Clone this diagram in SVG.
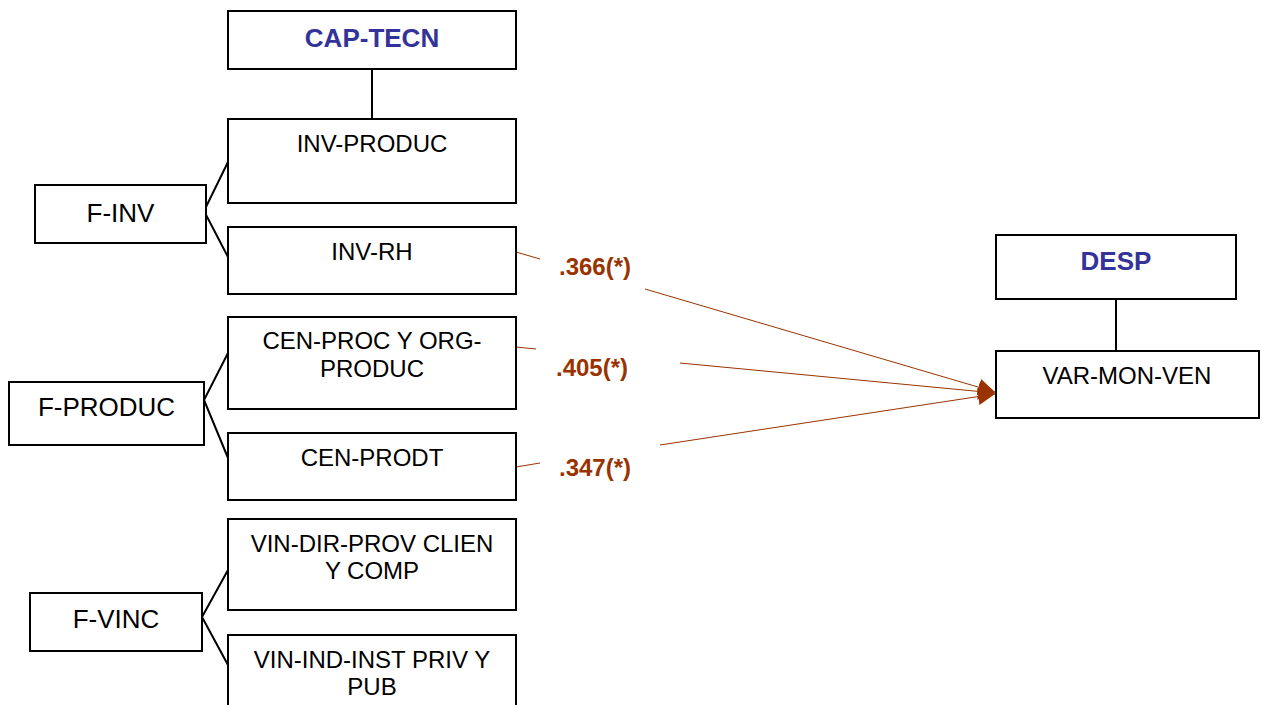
<svg xmlns="http://www.w3.org/2000/svg" width="1262" height="705" viewBox="0 0 1262 705">
<style>
.box{fill:#fff;stroke:#000;stroke-width:2}
.t{font-family:"Liberation Sans",Arial,sans-serif;font-size:24px;fill:#000;text-anchor:middle}
.f{font-size:26px}
.h{font-family:"Liberation Sans",Arial,sans-serif;font-size:26px;font-weight:bold;fill:#333399;text-anchor:middle}
.lbl{font-family:"Liberation Sans",Arial,sans-serif;font-size:24px;font-weight:bold;fill:#993300;text-anchor:middle}
.bk{fill:none;stroke:#000;stroke-width:2}
.rd{fill:none;stroke:#993300;stroke-width:1}
</style>
<defs>
<marker id="ah" viewBox="0 0 10 10" refX="10" refY="5" markerUnits="userSpaceOnUse" markerWidth="17" markerHeight="20" orient="auto">
<path d="M0,0 L10,5 L0,10 z" fill="#993300"/>
</marker>
</defs>
<rect width="1262" height="705" fill="#fff"/>
<g id="connectors">
<path class="bk" d="M372,69 V119"/>
<path class="bk" d="M1116,299 V351"/>
<path class="bk" d="M228,162 L204,211 L228,257"/>
<path class="bk" d="M228,353 L204,400 L228,458"/>
<path class="bk" d="M228,570 L202,617 L228,665"/>
<path class="rd" d="M516,252 L540,259 M645,289 L995,392" marker-end="url(#ah)"/>
<path class="rd" d="M516,347 L536,349 M680,363 L995,393" marker-end="url(#ah)"/>
<path class="rd" d="M516,467 L540,463 M660,445 L995,394" marker-end="url(#ah)"/>
<text class="lbl" x="595" y="275">.366(*)</text>
<text class="lbl" x="592" y="376">.405(*)</text>
<text class="lbl" x="595" y="476">.347(*)</text>
</g>
<g id="cap-tecn"><rect class="box" x="228" y="11" width="288" height="58"/><text class="h" x="372" y="47">CAP-TECN</text></g>
<g id="inv-produc"><rect class="box" x="228" y="119" width="288" height="84"/><text class="t" x="372" y="152">INV-PRODUC</text></g>
<g id="inv-rh"><rect class="box" x="228" y="227" width="288" height="67"/><text class="t" x="372" y="260">INV-RH</text></g>
<g id="cen-proc"><rect class="box" x="228" y="317" width="288" height="92"/><text class="t" x="372" y="349">CEN-PROC Y ORG-</text><text class="t" x="372" y="377">PRODUC</text></g>
<g id="cen-prodt"><rect class="box" x="228" y="433" width="288" height="67"/><text class="t" x="372" y="466">CEN-PRODT</text></g>
<g id="vin-dir"><rect class="box" x="228" y="519" width="288" height="91"/><text class="t" x="372" y="552">VIN-DIR-PROV CLIEN</text><text class="t" x="372" y="579">Y COMP</text></g>
<g id="vin-ind"><rect class="box" x="228" y="635" width="288" height="80"/><text class="t" x="372" y="668">VIN-IND-INST PRIV Y</text><text class="t" x="372" y="695">PUB</text></g>
<g id="f-inv"><rect class="box" x="35" y="185" width="171" height="58"/><text class="t f" x="120.5" y="222">F-INV</text></g>
<g id="f-produc"><rect class="box" x="9" y="382" width="195" height="63"/><text class="t f" x="106.5" y="416">F-PRODUC</text></g>
<g id="f-vinc"><rect class="box" x="30" y="593" width="172" height="58"/><text class="t f" x="116" y="628">F-VINC</text></g>
<g id="desp"><rect class="box" x="996" y="235" width="240" height="64"/><text class="h" x="1116" y="270">DESP</text></g>
<g id="var-mon-ven"><rect class="box" x="996" y="351" width="263" height="67"/><text class="t" x="1127" y="384">VAR-MON-VEN</text></g>
</svg>
